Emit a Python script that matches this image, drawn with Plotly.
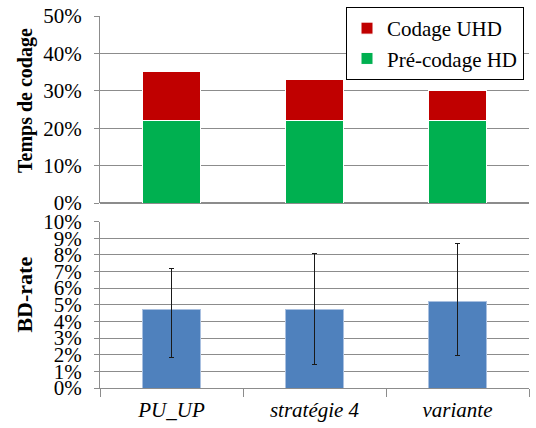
import plotly.graph_objects as go

categories = ["PU_UP", "stratégie 4", "variante"]
precodage_hd = [22.0, 22.0, 22.0]
codage_uhd = [13.3, 11.1, 8.2]
bd_rate = [4.70, 4.74, 5.18]
bd_rate_max = [7.20, 8.06, 8.68]
bd_rate_min = [1.84, 1.44, 1.94]

err_plus = [hi - v for hi, v in zip(bd_rate_max, bd_rate)]
err_minus = [v - lo for lo, v in zip(bd_rate_min, bd_rate)]

FONT = "Liberation Serif, Times New Roman, serif"
GRID = "#8c8c8c"
FS = 21

fig = go.Figure()
fig.add_trace(go.Bar(
    x=categories, y=precodage_hd, name="Pré-codage HD",
    marker=dict(color="#00B050", line=dict(color="white", width=1)),
    width=0.4, xaxis="x", yaxis="y", legendgroup="a", legendrank=2,
))
fig.add_trace(go.Bar(
    x=categories, y=codage_uhd, name="Codage UHD",
    marker=dict(color="#C00000", line=dict(color="white", width=1)),
    width=0.4, xaxis="x", yaxis="y", legendgroup="b", legendrank=1,
))
fig.add_trace(go.Bar(
    x=categories, y=bd_rate, name="BD-rate", showlegend=False,
    marker=dict(color="#4F81BD", line=dict(color="#a9c0e0", width=1)),
    width=0.4, xaxis="x2", yaxis="y2",
    error_y=dict(type="data", array=err_plus, arrayminus=err_minus,
                 symmetric=False, color="#1a1a1a", thickness=1, width=2.5),
))

top_dom = [0.497, 1.0]
bot_dom = [0.0, 0.4475]

fig.update_layout(
    width=536, height=428,
    margin=dict(l=100, r=7, t=16, b=40, autoexpand=False),
    paper_bgcolor="white", plot_bgcolor="white",
    barmode="stack",
    font=dict(family=FONT, size=FS, color="black"),
    showlegend=True,
    legend=dict(
        x=346 / 536, y=1 - 7 / 428, xanchor="left", yanchor="top",
        xref="container", yref="container",
        bgcolor="white", bordercolor="black", borderwidth=1,
        traceorder="grouped", tracegroupgap=0,
        font=dict(family=FONT, size=FS, color="black"),
        itemwidth=30,
    ),
    xaxis=dict(
        domain=[0, 1], anchor="y", showticklabels=False, ticks="",
        showline=False, showgrid=False, fixedrange=True,
    ),
    yaxis=dict(
        domain=top_dom, anchor="x", range=[0, 50], dtick=10,
        ticksuffix="%", showgrid=True, gridcolor=GRID, gridwidth=1,
        showline=True, linecolor=GRID, linewidth=1,
        ticks="outside", ticklen=5, tickcolor=GRID,
        ticklabelstandoff=8, zeroline=True, zerolinecolor=GRID,
        tickfont=dict(family=FONT, size=FS, color="black"),
    ),
    xaxis2=dict(
        domain=[0, 1], anchor="y2", showgrid=False,
        showline=True, linecolor=GRID, linewidth=1,
        ticks="outside", tickson="boundaries", ticklen=8, tickcolor=GRID,
        tickfont=dict(family=FONT, size=FS, color="black", style="italic"),
        ticklabelstandoff=3,
    ),
    yaxis2=dict(
        domain=bot_dom, anchor="x2", range=[0, 10], dtick=1,
        ticksuffix="%", showgrid=True, gridcolor=GRID, gridwidth=1,
        showline=True, linecolor=GRID, linewidth=1,
        ticks="outside", ticklen=5, tickcolor=GRID,
        ticklabelstandoff=8, zeroline=False,
        tickfont=dict(family=FONT, size=FS, color="black"),
    ),
    annotations=[
        dict(text="<b>Temps de codage</b>", x=-0.175, y=0.774,
             xref="paper", yref="paper", textangle=-90, showarrow=False,
             xanchor="center", yanchor="middle",
             font=dict(family=FONT, size=20, color="black")),
        dict(text="<b>BD-rate</b>", x=-0.175, y=0.251,
             xref="paper", yref="paper", textangle=-90, showarrow=False,
             xanchor="center", yanchor="middle",
             font=dict(family=FONT, size=22, color="black")),
    ],
)

fig.write_html(
    "out.html",
    config={"displayModeBar": False},
    post_script="document.body.style.margin='0px';document.body.style.overflow='hidden';",
)
